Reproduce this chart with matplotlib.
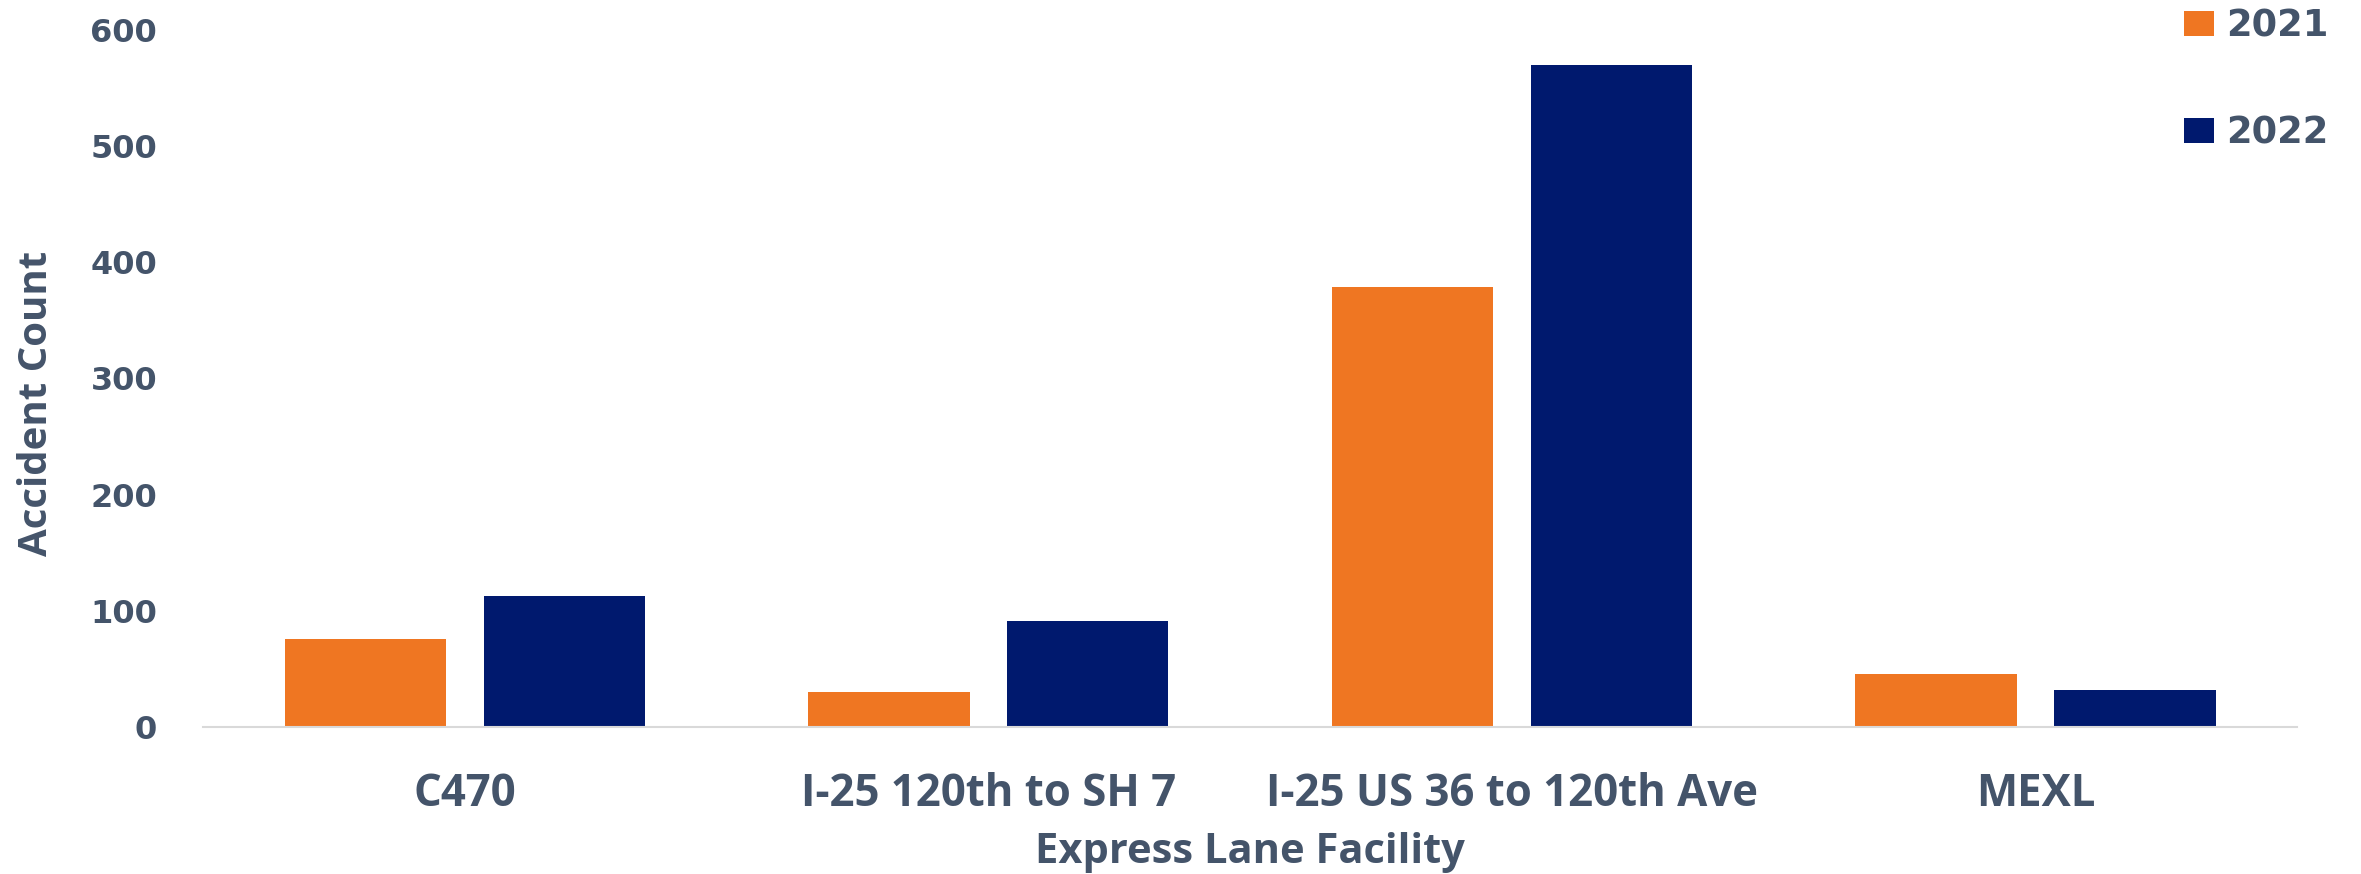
import matplotlib
matplotlib.use("Agg")
import matplotlib.pyplot as plt
from matplotlib import font_manager as fm
import numpy as np

categories = ["C470", "I-25 120th to SH 7", "I-25 US 36 to 120th Ave", "MEXL"]
series_names = ["2021", "2022"]
values_2021 = [76, 30, 379, 46]
values_2022 = [113, 91, 570, 32]
y_ticks = [0, 100, 200, 300, 400, 500, 600]

avail = {f.name for f in fm.fontManager.ttflist}
def pick(cands):
    for c in cands:
        if c in avail:
            return c
    return "DejaVu Sans"

label_font = pick(["Open Sans", "Noto Sans", "Lato"])
wide = "DejaVu Sans"

TEXT = "#44546A"
ORANGE = "#EF7622"
NAVY = "#00196E"

fig = plt.figure(figsize=(23.61, 8.74), dpi=100)
ax = fig.add_axes([0.086, 0.168, 0.887, 0.798])

x = np.arange(len(categories))
w = 0.308
off = 0.19
ax.bar(x - off, values_2021, width=w, color=ORANGE, label=series_names[0])
ax.bar(x + off, values_2022, width=w, color=NAVY, label=series_names[1])

ax.set_xlim(-0.5, len(categories) - 0.5)
ax.set_ylim(0, 600)
ax.set_yticks(y_ticks)
ax.set_yticklabels([str(v) for v in y_ticks], fontfamily=wide, fontweight="bold",
                   fontsize=23, color=TEXT)
ax.set_xticks(x)
ax.set_xticklabels(categories, fontfamily=label_font, fontweight="bold", fontsize=31.5,
                   color=TEXT)
ax.tick_params(axis="both", length=0)
ax.tick_params(axis="y", pad=33)
ax.tick_params(axis="x", pad=32)

for s in ["top", "right", "left"]:
    ax.spines[s].set_visible(False)
ax.spines["bottom"].set_color("#D9D9D9")
ax.spines["bottom"].set_linewidth(1.5)

ax.set_xlabel("Express Lane Facility", fontfamily=label_font, fontweight="bold",
              fontsize=30, color=TEXT, labelpad=11)
ax.set_ylabel("Accident Count", fontfamily=label_font, fontweight="bold",
              fontsize=29, color=TEXT)
ax.yaxis.set_label_coords(-0.070, 0.464)

leg = ax.legend(loc="upper left", bbox_to_anchor=(0.922, 1.0),
                bbox_transform=fig.transFigure, frameon=False,
                prop={"family": wide, "weight": "bold", "size": 26.5},
                handlelength=0.8, handleheight=0.7, handletextpad=0.33,
                labelspacing=1.9, borderpad=0.2, borderaxespad=0)
for t in leg.get_texts():
    t.set_color(TEXT)

fig.savefig("out.png", dpi=100, facecolor="white")
